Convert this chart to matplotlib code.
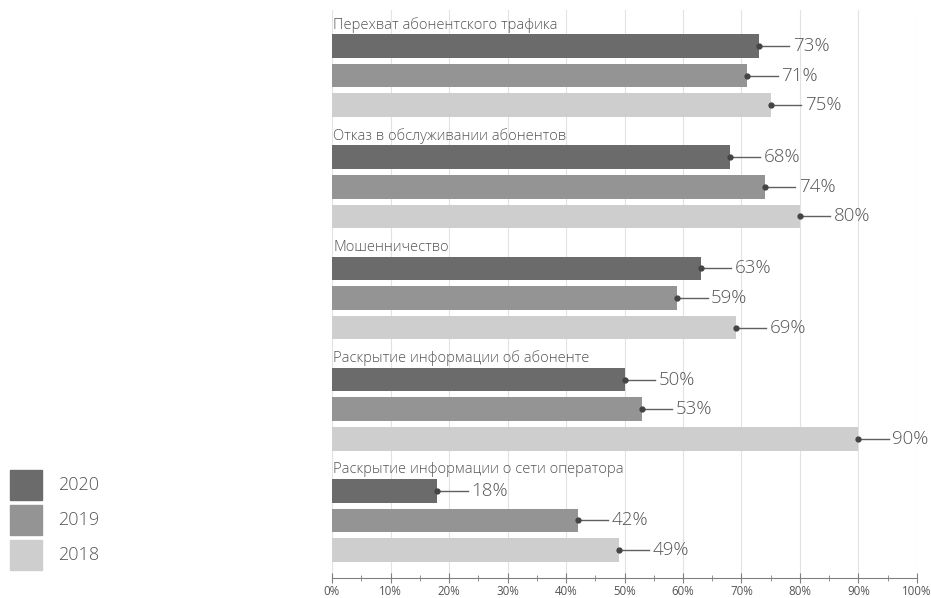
import matplotlib
matplotlib.use("Agg")
import matplotlib.pyplot as plt
from matplotlib.patches import Rectangle
from matplotlib.ticker import MultipleLocator, FuncFormatter

categories = [
    "Перехват абонентского трафика",
    "Отказ в обслуживании абонентов",
    "Мошенничество",
    "Раскрытие информации об абоненте",
    "Раскрытие информации о сети оператора",
]
years = ["2020", "2019", "2018"]
values_2020 = [73, 68, 63, 50, 18]
values_2019 = [71, 74, 59, 53, 42]
values_2018 = [75, 80, 69, 90, 49]
series = [values_2020, values_2019, values_2018]
colors = ["#6b6b6b", "#949494", "#cecece"]
text_color = "#555555"
font = ["Open Sans", "DejaVu Sans"]
wt = "light"

W, H = 931, 598
fig = plt.figure(figsize=(W / 100, H / 100), dpi=100)
ax = fig.add_axes([332 / W, 1 - 578 / H, (917 - 332) / W, (578 - 10) / H])

group_step = 3.763
bar_h = 0.8
for g, cat in enumerate(categories):
    base = g * group_step
    ax.text(0.2, base - 0.72, cat, ha="left", va="center", fontsize=10.6,
            color=text_color, family=font, weight=wt)
    for j, vals in enumerate(series):
        y = base + j
        v = vals[g]
        ax.barh(y, v, height=bar_h, color=colors[j], zorder=2)
        ax.plot([v, v + 5.2], [y, y], color="#606060", lw=1.0, zorder=3)
        ax.plot([v], [y], marker="o", ms=3.5, color="#444444", zorder=4)
        ax.text(v + 5.8, y, f"{v}%", ha="left", va="center", fontsize=13.5,
                color=text_color, family=font, weight=wt, zorder=4)

ax.set_xlim(0, 100)
ax.set_ylim(4 * group_step + 2 + 0.95, -1.22)
ax.xaxis.set_major_locator(MultipleLocator(10))
ax.xaxis.set_minor_locator(MultipleLocator(5))
ax.xaxis.set_major_formatter(FuncFormatter(lambda x, p: f"{int(x)}%"))
ax.set_yticks([])
ax.grid(axis="x", which="major", color="#e2e2e2", lw=0.8, zorder=0)
for s in ["top", "right", "left"]:
    ax.spines[s].set_visible(False)
ax.spines["bottom"].set_color("#808080")
ax.tick_params(axis="x", which="major", direction="inout", length=7, color="#808080",
               labelsize=8.3, labelcolor=text_color, pad=1.5)
ax.tick_params(axis="x", which="minor", direction="inout", length=4, color="#808080")
for lab in ax.get_xticklabels():
    lab.set_family(font)

# legend
leg_tops = [470, 505, 540]
for j, yr in enumerate(years):
    y0 = leg_tops[j]
    fig.add_artist(Rectangle((10 / W, 1 - (y0 + 30) / H), 32 / W, 30 / H,
                             transform=fig.transFigure, color=colors[j]))
    fig.text(58 / W, 1 - (y0 + 15) / H, yr, ha="left", va="center", fontsize=13,
             color=text_color, family=font, weight=wt)

fig.savefig("out.png", dpi=100)
